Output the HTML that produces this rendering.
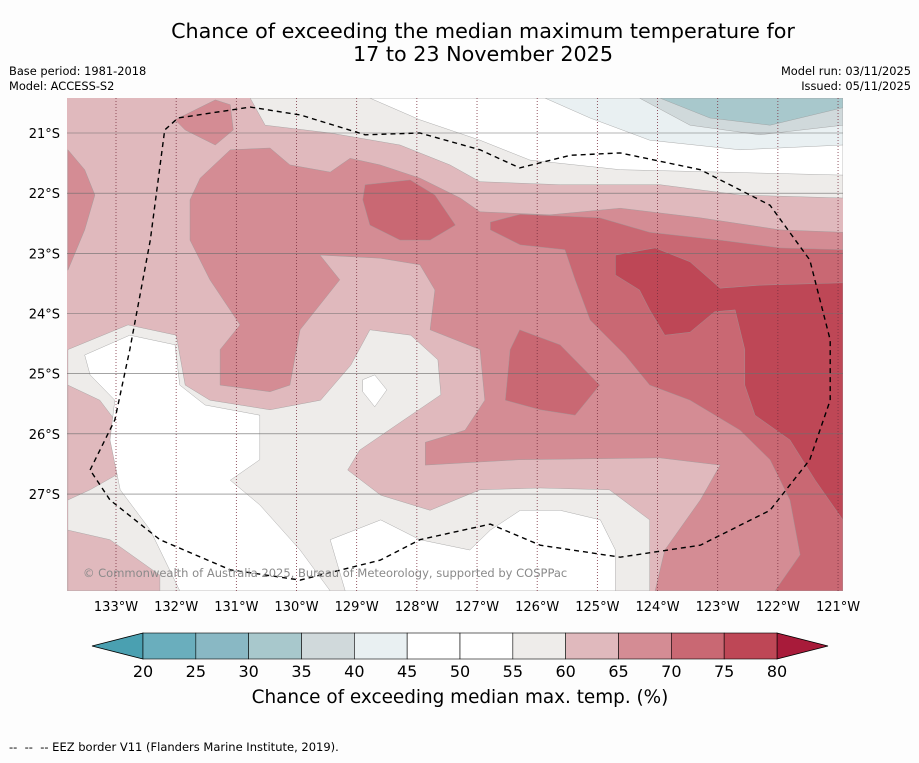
<!DOCTYPE html>
<html><head><meta charset="utf-8"><style>
body{margin:0;background:#fdfdfd;width:919px;height:758px;overflow:hidden;font-family:"Liberation Sans","DejaVu Sans",sans-serif}
svg text{font-family:"DejaVu Sans","Liberation Sans",sans-serif}
</style></head><body>
<svg id="chart" width="919" height="758" xmlns="http://www.w3.org/2000/svg">
<rect width="919" height="758" fill="#fdfdfd"/>
<text x="483" y="38" font-size="20.7" text-anchor="middle">Chance of exceeding the median maximum temperature for</text>
<text x="483" y="61" font-size="20.7" text-anchor="middle">17 to 23 November 2025</text>
<text x="9" y="75" font-size="11.4">Base period: 1981-2018</text>
<text x="9" y="90" font-size="11.4">Model: ACCESS-S2</text>
<text x="911" y="75" font-size="11.4" text-anchor="end">Model run: 03/11/2025</text>
<text x="911" y="90" font-size="11.4" text-anchor="end">Issued: 05/11/2025</text>
<defs><clipPath id="mapclip"><rect x="67" y="98" width="776" height="493"/></clipPath></defs>
<g id="map" clip-path="url(#mapclip)"></g>
<g id="axes"></g>
<g id="cbar"></g>
<text x="460" y="703" font-size="18.4" text-anchor="middle">Chance of exceeding median max. temp. (%)</text>
<text x="9" y="751" font-size="11.5">-- &#160;-- &#160;-- EEZ border V11 (Flanders Marine Institute, 2019).</text>
</svg>
<script>
const lonTicks=[133,132,131,130,129,128,127,126,125,124,123,122,121];
const latTicks=[21,22,23,24,25,26,27];
const levels=[20,25,30,35,40,45,50,55,60,65,70,75,80];
const levelColors=["#6aaebd","#89b8c4","#a8c8cc","#d0d9db","#e9f0f2","#ffffff","#ffffff","#eeecea","#e0b9bd","#d48c94","#c96873","#be4756"];
const regionGrey=[[133.8,24.6],[132.8,24.19],[132.0,24.36],[131.85,25.19],[131.44,25.44],[130.44,25.6],[129.6,25.44],[129.1,24.86],[128.78,24.27],[128.1,24.36],[127.65,24.77],[127.6,25.35],[128.1,25.69],[128.95,26.27],[129.15,26.6],[128.6,27.02],[127.78,27.27],[126.95,26.93],[125.95,26.9],[124.8,26.93],[124.13,27.43],[124.13,28.61],[133.8,28.61]];
const regionPinkL1=[[133.8,25.19],[133.27,25.44],[132.77,26.1],[132.85,26.6],[133.43,26.93],[133.8,27.1]];
const regionPinkL2=[[133.8,27.6],[133.1,27.76],[132.27,28.35],[132.27,28.61],[133.8,28.61]];
const regionWhiteA=[[133.52,24.69],[132.77,24.36],[132.02,24.52],[131.94,25.19],[131.52,25.52],[130.61,25.69],[130.61,26.43],[131.1,26.77],[130.61,27.18],[129.94,27.93],[129.44,28.61],[131.94,28.61],[132.43,27.6],[132.93,26.93],[133.1,26.1],[133.02,25.44],[133.43,25.02]];
const regionWhiteB=[[128.9,25.1],[128.7,25.02],[128.5,25.27],[128.7,25.55],[128.9,25.3]];
const regionWhiteC=[[129.44,27.76],[128.6,27.43],[127.95,27.76],[127.12,27.93],[126.78,27.6],[126.28,27.27],[125.62,27.27],[124.95,27.43],[124.7,27.93],[124.7,28.61],[129.19,28.61]];
const regionGreyTop=[[130.77,20.42],[130.52,20.87],[129.44,21.0],[128.28,21.2],[127.45,21.53],[126.95,21.81],[125.62,21.86],[123.96,21.86],[122.63,22.03],[120.92,22.08],[120.92,20.42]];
const regionWhiteTop=[[128.78,20.42],[127.95,20.78],[126.95,21.12],[126.12,21.45],[124.62,21.61],[122.96,21.65],[120.92,21.7],[120.92,20.42]];
const regionBlue40=[[125.87,20.42],[125.12,20.75],[124.13,21.12],[122.63,21.28],[120.92,21.2],[120.92,20.42]];
const regionBlue35=[[124.3,20.42],[123.46,20.87],[122.3,21.03],[120.92,20.87],[120.92,20.42]];
const regionBlue30=[[123.96,20.42],[123.13,20.75],[122.13,20.87],[120.92,20.58],[120.92,20.42]];
const region65=[[131.77,22.11],[131.6,21.75],[131.1,21.28],[130.44,21.25],[130.11,21.53],[129.44,21.65],[129.11,21.42],[128.61,21.53],[127.95,21.75],[127.28,22.08],[126.95,22.31],[125.79,22.36],[124.62,22.25],[123.29,22.41],[121.96,22.61],[120.92,22.65],[120.92,28.61],[124.04,28.61],[123.88,27.93],[123.29,27.1],[122.96,26.52],[123.96,26.4],[126.29,26.43],[127.86,26.52],[127.86,26.14],[127.2,25.94],[126.87,25.44],[126.95,24.6],[127.78,24.27],[127.7,23.61],[127.95,23.19],[128.61,23.08],[129.61,23.03],[129.28,23.44],[129.94,24.27],[130.11,25.19],[130.44,25.3],[131.27,25.19],[131.27,24.6],[130.94,24.19],[131.44,23.44],[131.77,22.78]];
const region65TL=[[132.02,20.78],[131.35,20.45],[131.1,20.53],[131.05,20.95],[131.35,21.2],[131.85,20.95]];
const region65L=[[133.8,21.28],[133.52,21.61],[133.35,22.03],[133.52,22.61],[133.8,23.28]];
const region70=[[126.78,22.48],[126.28,22.35],[124.96,22.41],[124.13,22.65],[122.96,22.78],[121.96,22.91],[120.92,22.94],[120.92,28.61],[122.05,28.61],[121.63,28.01],[121.8,27.1],[122.13,26.43],[122.63,25.94],[123.46,25.44],[124.13,25.19],[124.54,24.69],[125.12,24.11],[125.37,23.44],[125.54,22.94],[126.28,22.86],[126.78,22.61]];
const region70A=[[128.86,21.86],[128.11,21.78],[127.7,22.03],[127.36,22.53],[127.78,22.78],[128.28,22.78],[128.78,22.53],[128.9,22.11]];
const region70B=[[126.29,24.27],[125.62,24.52],[124.96,25.19],[125.37,25.69],[125.95,25.6],[126.53,25.44],[126.45,24.6]];
const region75=[[124.7,23.03],[124.04,22.91],[123.46,23.14],[122.96,23.58],[122.3,23.53],[120.92,23.49],[120.92,27.43],[121.38,26.77],[121.8,26.1],[122.38,25.69],[122.55,25.19],[122.55,24.6],[122.71,23.94],[123.05,23.97],[123.46,24.31],[123.88,24.36],[124.13,23.94],[124.3,23.61],[124.7,23.36]];
const eezBorder=[[133.43,26.6],[133.02,25.77],[132.77,24.6],[132.43,22.78],[132.19,20.95],[131.97,20.75],[130.77,20.57],[129.94,20.7],[128.86,21.03],[127.95,21.0],[126.95,21.28],[126.29,21.58],[125.45,21.37],[124.62,21.33],[123.29,21.61],[122.13,22.2],[121.47,23.11],[121.13,24.44],[121.13,25.44],[121.47,26.43],[122.13,27.27],[123.29,27.85],[124.62,28.05],[125.95,27.85],[126.78,27.5],[127.95,27.76],[128.61,28.1],[129.94,28.43],[131.1,28.26],[132.27,27.76],[133.1,27.1],[133.43,26.6]];

const NS="http://www.w3.org/2000/svg";
const pxPerDeg=60.17;
function xScale(lonW){return 116+(133-lonW)*pxPerDeg;}
function yScale(latS){return 133+(latS-21)*pxPerDeg;}
function cbScale(v){return 143+(v-20)*(777-143)/60;}
function mk(tag,attrs,parent){const e=document.createElementNS(NS,tag);for(const k in attrs)e.setAttribute(k,attrs[k]);parent.appendChild(e);return e;}
function pts(arr){return arr.map(p=>xScale(p[0]).toFixed(1)+","+yScale(p[1]).toFixed(1)).join(" ");}
const map=document.getElementById('map');
const bg=mk('rect',{x:67,y:98,width:776,height:493,fill:levelColors[8]},map);


const layers=[[regionGrey,7,'region-55-60-southwest'],[regionPinkL1,8,'region-60-65-west'],[regionPinkL2,8,'region-60-65-southwest'],[regionWhiteA,5,'region-45-55-west'],[regionWhiteB,5,'region-45-55-small'],[regionWhiteC,5,'region-45-55-south'],[regionGreyTop,7,'region-55-60-north'],[regionWhiteTop,5,'region-45-55-north'],[regionBlue40,4,'region-40-45-north'],[regionBlue35,3,'region-35-40-north'],[regionBlue30,2,'region-30-35-north'],[region65,9,'region-65-70-main'],[region65TL,9,'region-65-70-northwest'],[region65L,9,'region-65-70-west'],[region70,10,'region-70-75-east'],[region70A,10,'region-70-75-north-blob'],[region70B,10,'region-70-75-central-blob'],[region75,11,'region-75-80-east']];
layers.forEach(l=>{
 const p=mk('polygon',{points:pts(l[0]),fill:levelColors[l[1]],stroke:'#9a9a9a','stroke-width':0.4,'stroke-linejoin':'round'},map);
 
 
});
lonTicks.forEach(t=>{
 const l=mk('line',{x1:xScale(t),x2:xScale(t),y1:98,y2:591,stroke:'#7a3040','stroke-width':0.8,'stroke-dasharray':'1,2'},map);
 
 
});
latTicks.forEach(t=>{
 const l=mk('line',{x1:67,x2:843,y1:yScale(t),y2:yScale(t),stroke:'#6e6e6e','stroke-width':0.6},map);
 
 
});
const eez=mk('polyline',{points:pts(eezBorder),fill:'none',stroke:'#000','stroke-width':1.4,'stroke-dasharray':'5,4'},map);


const cp=mk('text',{x:83,y:577,'font-size':11.5,fill:'#8a8a8a'},map);
cp.textContent='© Commonwealth of Australia 2025, Bureau of Meteorology, supported by COSPPac';


const axes=document.getElementById('axes');
lonTicks.forEach(t=>{
 const tx=mk('text',{x:xScale(t),y:611,'font-size':13,'text-anchor':'middle'},axes);
 tx.textContent=t+'°W';
 
 
});
latTicks.forEach(t=>{
 const tx=mk('text',{x:60,y:yScale(t)+5,'font-size':13,'text-anchor':'end'},axes);
 tx.textContent=t+'°S';
 
 
});
const cb=document.getElementById('cbar');
const la=mk('polygon',{points:`${cbScale(20)},633 ${cbScale(20)},659 92,646`,fill:'#4aa0b1',stroke:'#000','stroke-width':0.8},cb);


const ra=mk('polygon',{points:`${cbScale(80)},633 ${cbScale(80)},659 828,646`,fill:'#a81b3a',stroke:'#000','stroke-width':0.8},cb);


for(let i=0;i<levels.length-1;i++){
 const r=mk('rect',{x:cbScale(levels[i]),y:633,width:cbScale(levels[i+1])-cbScale(levels[i]),height:26,fill:levelColors[i],stroke:'#000','stroke-width':0.6},cb);
 
 
}
levels.forEach(v=>{
 const tx=mk('text',{x:cbScale(v),y:677,'font-size':16,'text-anchor':'middle'},cb);
 tx.textContent=v;
 
 
});
</script>
</body></html>
